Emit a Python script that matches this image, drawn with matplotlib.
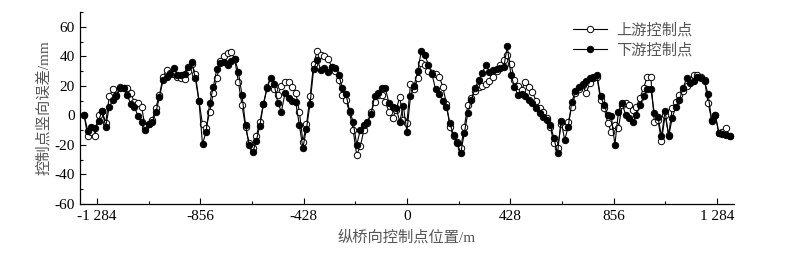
import numpy as np
import matplotlib
matplotlib.use("Agg")
import matplotlib.pyplot as plt
from matplotlib.ticker import MultipleLocator

# ---- data ----
x_start, x_end = -1338, 1337
downstream = [
    0, -10.5, -8.2, -8.7, -3.7, 3, -7.8, 6, 10.3, 12.8,
    18.4, 18.4, 13.5, 7.8, 6, -0.6, -4.2, -9.8, -6, -4.6,
    2.1, 12.5, 24, 26.3, 27.9, 32, 27.5, 27.5, 27.9, 33.1,
    36.5, 25, 10, -19.5, -11, 8.3, 19, 31.5, 35.4, 36.5,
    33.8, 37, 38.3, 29.7, 13.9, -6.4, -20, -25, -17.3, -6.9,
    7.6, 18.4, 25.2, 21.1, 8.3, 2.6, 15, 11.6, 9.8, 8.9,
    -6.5, -22, -9, 8, 31.5, 37.6, 30.9, 32, 29.3, 33.1,
    32, 27.5, 18.4, 14.4, 3.1, -4.2, -20, -9.8, -6.4, -4.2,
    1, 12.8, 15, 18.4, 18.4, 8.3, 6, 4.9, -4.2, 6.5,
    -11, 12.8, 20, 30, 43.3, 41, 34.2, 27.9, 17.7, 14.4,
    9.8, 6, -5.3, -13.2, -18.9, -25.6, -12, 1.5, 10.5, 18.4,
    24, 28.6, 34.2, 29.7, 30.9, 31.5, 32, 32.5, 46.7, 27.5,
    19.5, 13.5, 14.4, 13.2, 10.5, 8.3, 4.9, 1.5, -0.8, -3,
    -6.4, -15.5, -25.7, -3.7, -16.6, -7.6, 9.4, 16.2, 18.9, 21.1,
    23.4, 25.2, 26.3, 27.5, 12.8, 7.1, 0.3, -0.3, -20, 2.6,
    8.3, 0.3, -2, -4.6, 0.3, 7.1, 12.8, 18, 18, 1.5,
    -0.8, -14.3, 3.1, -14.3, -1.5, 6, 10.5, 18.4, 25.2, 21.8,
    23, 25.7, 25.2, 23, 14.4, -3.7, 0.3, -12, -12.8, -13.2, -14.3,
]
upstream = [
    0, -14.3, -11, -14.3, 0.3, 3, -5, 12.8, 18, 14,
    18.9, 18.4, 18.4, 15, 8.9, 8.3, 6, -8, -6, -3,
    5.3, 14, 26, 31, 29, 28, 26, 25.5, 24.5, 30,
    35, 28, 10, -6, -8.7, 2, 15, 25, 37, 40,
    42, 42.8, 38, 22.5, 7.1, -8, -18.9, -22, -14, -4.6,
    8, 18.9, 22, 18, 13.9, 20, 22.9, 22.9, 19, 15.5,
    2.6, -18, -6, 12.8, 35, 43.7, 40.6, 40, 38.3, 33,
    30, 24, 13.9, 10.5, 2, -9.8, -26.8, -21, -10, -5.3,
    2, 9.4, 14, 14, 9, 2.6, -2, 3.7, 12.5, -3,
    -5.3, 21.3, 17.7, 25, 35.8, 34.2, 30, 29, 28, 26.3,
    19.5, 8, -7.6, -14.3, -18.2, -22.3, -8, 7.1, 12, 16.6,
    19.5, 20.2, 21.1, 23, 26.3, 30, 34, 37.6, 41, 35,
    24, 20, 17.3, 22.9, 19, 16, 10, 5, 2, -2,
    -8, -18.9, -22.3, -6, -7.6, -4.6, 6, 15, 18, 20.7,
    15, 22, 25, 26, 10.5, 5, -5.3, -11, -6.4, -8.7,
    7.1, 8.3, 7.1, 3.7, 6, 12, 18.4, 26.3, 26.3, -4.6,
    -3, -17.3, 0, -13.2, 5, 9.4, 13.9, 16.2, 20, 24,
    27.5, 27.5, 26, 24, 8.3, -3, 0, -12, -11, -8.7, -14,
]
xticks = [-1284, -856, -428, 0, 428, 856, 1284]
xticklabels = ["-1 284", "-856", "-428", "0", "428", "856", "1 284"]
yticks = [-60, -40, -20, 0, 20, 40, 60]
labels = ["上游控制点", "下游控制点"]

x = np.linspace(x_start, x_end, len(downstream))

cjk = ["Liberation Serif", "Noto Sans CJK SC"]
plt.rcParams["font.family"] = cjk
plt.rcParams["axes.unicode_minus"] = False

fig = plt.figure(figsize=(7.85, 2.68), dpi=100)
ax = fig.add_axes([0.102, 0.239, 0.833, 0.716])

ax.plot(x, upstream, "-", color="black", lw=0.8, marker="o", ms=4.6,
        mfc="white", mec="black", mew=0.7, label=labels[0], zorder=2)
ax.plot(x, downstream, "-", color="black", lw=0.8, marker="o", ms=4.6,
        mfc="black", mec="black", mew=0.7, label=labels[1], zorder=3)

ax.set_xlim(-1355, 1355)
ax.set_ylim(-60, 70)
ax.set_xticks(xticks)
ax.set_xticklabels(xticklabels)
ax.set_yticks(yticks)
ax.xaxis.set_minor_locator(MultipleLocator(214))
ax.yaxis.set_minor_locator(MultipleLocator(10))
ax.tick_params(which="major", direction="in", length=4, width=0.8,
               labelsize=11, colors="black", pad=4)
ax.tick_params(which="minor", direction="in", length=2.5, width=0.8)
for s in ["top", "right"]:
    ax.spines[s].set_visible(False)
for s in ["left", "bottom"]:
    ax.spines[s].set_linewidth(0.9)

ax.set_xlabel("纵桥向控制点位置/m", fontsize=11, color="#555555", labelpad=5)
ax.set_ylabel("控制点竖向误差/mm", fontsize=11, color="#555555", labelpad=2)

leg = ax.legend(loc="upper right", bbox_to_anchor=(0.95, 0.99), frameon=False,
                fontsize=11, handlelength=2.2, handletextpad=0.6,
                labelspacing=0.35, borderaxespad=0.2)
for t in leg.get_texts():
    t.set_color("#555555")

fig.savefig("out.png", dpi=100)
